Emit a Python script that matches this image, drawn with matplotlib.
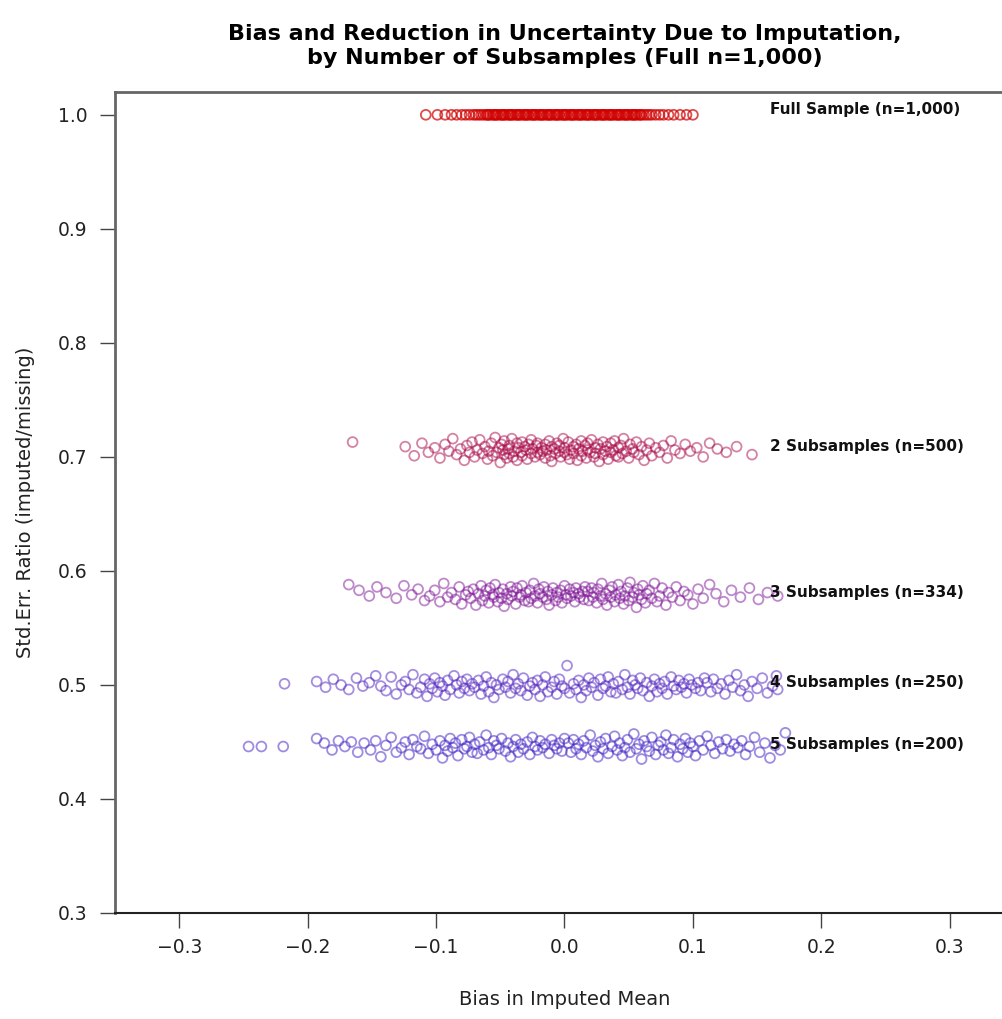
import matplotlib
matplotlib.use("Agg")
import matplotlib.pyplot as plt

# ---------------- data ----------------
labels = ["Full Sample (n=1,000)", "2 Subsamples (n=500)", "3 Subsamples (n=334)",
          "4 Subsamples (n=250)", "5 Subsamples (n=200)"]
label_y = [1.0044, 0.7088, 0.5807, 0.5018, 0.4474]
label_x = 0.160

x_full = [-0.108, -0.099, -0.093, -0.088, -0.084, -0.080, -0.077, -0.074, -0.071, -0.069,
          -0.067, -0.065, -0.063, -0.061,
          -0.060, -0.059, -0.058, -0.056, -0.055, -0.054, -0.053, -0.052, -0.050, -0.049,
          -0.048, -0.047, -0.046, -0.044, -0.043, -0.042, -0.041, -0.040, -0.038, -0.037,
          -0.036, -0.035, -0.034, -0.032, -0.031, -0.030, -0.029, -0.028, -0.026, -0.025,
          -0.024, -0.023, -0.022, -0.020, -0.019, -0.018, -0.017, -0.016, -0.014, -0.013,
          -0.012, -0.011, -0.010, -0.008, -0.007, -0.006, -0.005, -0.004, -0.002, -0.001,
          0.000, 0.001, 0.002, 0.004, 0.005, 0.006, 0.007, 0.008, 0.010, 0.011,
          0.012, 0.013, 0.014, 0.016, 0.017, 0.018, 0.019, 0.020, 0.022, 0.023,
          0.024, 0.025, 0.026, 0.028, 0.029, 0.030, 0.031, 0.032, 0.034, 0.035,
          0.036, 0.037, 0.038, 0.040, 0.041, 0.042, 0.043, 0.044, 0.046, 0.047,
          0.048, 0.049, 0.050, 0.052, 0.053, 0.054, 0.055, 0.056, 0.058, 0.059,
          0.060, 0.062,
          0.064, 0.066, 0.068, 0.071, 0.074, 0.077, 0.081, 0.085, 0.090, 0.095, 0.100]
y_full = [1.0] * len(x_full)   # the full sample has a ratio of exactly 1

x_2 = [-0.165, -0.124, -0.117, -0.111, -0.106, -0.101, -0.097, -0.093, -0.090, -0.087,
       -0.084, -0.081, -0.078, -0.076, -0.074, -0.072, -0.070, -0.068, -0.066, -0.064,
       -0.062, -0.060, -0.059, -0.057, -0.056, -0.054, -0.053, -0.051, -0.050, -0.049,
       -0.048, -0.047, -0.047, -0.045, -0.044, -0.043, -0.043, -0.041, -0.040, -0.039,
       -0.037, -0.037, -0.036, -0.034, -0.033, -0.033, -0.031, -0.030, -0.029, -0.028,
       -0.026, -0.026, -0.025, -0.023, -0.022, -0.021, -0.021, -0.019, -0.018, -0.017,
       -0.015, -0.015, -0.014, -0.012, -0.011, -0.010, -0.010, -0.008, -0.007, -0.006,
       -0.004, -0.004, -0.003, -0.001, 0.000, 0.000, 0.002, 0.003, 0.004, 0.005,
       0.007, 0.007, 0.009, 0.010, 0.011, 0.013, 0.013, 0.014, 0.016, 0.017,
       0.018, 0.018, 0.020, 0.021, 0.023, 0.024, 0.024, 0.026, 0.027, 0.028,
       0.030, 0.030, 0.032, 0.033, 0.034, 0.036, 0.036, 0.038, 0.039, 0.040,
       0.042, 0.042, 0.044, 0.045, 0.046, 0.048,
       0.050, 0.051, 0.053, 0.054, 0.056, 0.058, 0.060, 0.062, 0.064, 0.066,
       0.068, 0.071, 0.074, 0.077, 0.080, 0.083, 0.086, 0.090, 0.094, 0.098,
       0.103, 0.108, 0.113, 0.119, 0.126, 0.134, 0.146]
y_2 = [0.713, 0.709, 0.701, 0.712, 0.704, 0.708, 0.699, 0.711, 0.705, 0.716,
       0.702, 0.707, 0.697, 0.710, 0.704, 0.713, 0.700, 0.706, 0.715, 0.703,
       0.709, 0.698, 0.705, 0.712, 0.701, 0.717, 0.704, 0.708, 0.695, 0.711,
       0.706, 0.702, 0.714, 0.699, 0.707, 0.710, 0.703, 0.716, 0.700, 0.705,
       0.712, 0.697, 0.708, 0.704, 0.713, 0.701, 0.709, 0.706, 0.698, 0.711,
       0.703, 0.715, 0.707, 0.700, 0.710, 0.704, 0.712, 0.702, 0.708, 0.705,
       0.711, 0.699, 0.706, 0.714, 0.701, 0.709, 0.696, 0.707, 0.703, 0.712,
       0.705, 0.710, 0.700, 0.716, 0.704, 0.708, 0.702, 0.713, 0.698, 0.706,
       0.709, 0.703, 0.711, 0.697, 0.707, 0.714, 0.701, 0.705, 0.710, 0.699,
       0.712, 0.706, 0.704, 0.715, 0.700, 0.708, 0.703, 0.711, 0.696, 0.707,
       0.702, 0.713, 0.705, 0.709, 0.698, 0.712, 0.704, 0.706, 0.714, 0.701,
       0.708, 0.700, 0.710, 0.703, 0.716, 0.705, 0.699, 0.711, 0.707, 0.704,
       0.713, 0.702, 0.709, 0.697, 0.706, 0.712, 0.701, 0.708, 0.704, 0.710,
       0.699, 0.714, 0.706, 0.703, 0.711, 0.705, 0.708, 0.700, 0.712, 0.707,
       0.704, 0.709, 0.702]

x_3 = [-0.168, -0.160, -0.152, -0.146, -0.139, -0.131, -0.125, -0.119, -0.114, -0.109,
       -0.105, -0.101, -0.097, -0.094, -0.091, -0.088, -0.085, -0.082, -0.080, -0.077,
       -0.075, -0.073, -0.071, -0.069, -0.067,
       -0.065, -0.064, -0.062, -0.061, -0.059, -0.058, -0.056, -0.055, -0.054, -0.052,
       -0.051, -0.049, -0.048, -0.047, -0.045, -0.044, -0.042, -0.041, -0.040, -0.038,
       -0.037, -0.035, -0.034, -0.033, -0.031, -0.030, -0.028, -0.027, -0.026, -0.024,
       -0.023, -0.021, -0.020, -0.019, -0.017, -0.016, -0.014, -0.013, -0.012, -0.010,
       -0.009, -0.007, -0.006, -0.005, -0.003, -0.002, 0.000, 0.001, 0.002, 0.004,
       0.005, 0.007, 0.008, 0.009, 0.011, 0.012, 0.014, 0.015, 0.016, 0.018,
       0.019, 0.021, 0.022, 0.023, 0.025, 0.026, 0.028, 0.029, 0.030, 0.032,
       0.033, 0.035, 0.036, 0.037, 0.039, 0.040, 0.042, 0.043, 0.044, 0.046,
       0.047, 0.049, 0.050, 0.051, 0.053, 0.054, 0.056, 0.057, 0.058, 0.060,
       0.061, 0.063, 0.064,
       0.066, 0.068, 0.070, 0.072, 0.074, 0.076, 0.079, 0.081, 0.084, 0.087,
       0.090, 0.093, 0.096, 0.100, 0.104, 0.108, 0.113, 0.118, 0.124, 0.130,
       0.137, 0.144, 0.151, 0.158, 0.166]
y_3 = [0.588, 0.583, 0.578, 0.586, 0.581, 0.576, 0.587, 0.579, 0.584, 0.574,
       0.578, 0.583, 0.573, 0.589, 0.577, 0.581, 0.575, 0.586, 0.571, 0.579,
       0.582, 0.576, 0.584, 0.570, 0.580, 0.587, 0.574, 0.578, 0.583, 0.572,
       0.585, 0.579, 0.577, 0.588, 0.573, 0.581, 0.576, 0.584, 0.569, 0.580,
       0.575, 0.586, 0.578, 0.582, 0.571, 0.585, 0.577, 0.579, 0.587, 0.574,
       0.581, 0.573, 0.583, 0.576, 0.589, 0.578, 0.572, 0.584, 0.580, 0.577,
       0.586, 0.575, 0.582, 0.570, 0.579, 0.585, 0.574, 0.581, 0.577, 0.583,
       0.572, 0.587, 0.579, 0.576, 0.584, 0.578, 0.581, 0.573, 0.585, 0.580,
       0.577, 0.582, 0.575,
       0.586, 0.582, 0.574, 0.585, 0.577, 0.581, 0.572, 0.584, 0.578, 0.589,
       0.575, 0.580, 0.570, 0.583, 0.577, 0.586, 0.573, 0.579, 0.588, 0.576,
       0.582, 0.571, 0.578, 0.585, 0.574, 0.590, 0.577, 0.581, 0.568, 0.584,
       0.579, 0.575, 0.587, 0.572, 0.580, 0.583, 0.576, 0.589, 0.573, 0.578,
       0.585, 0.570, 0.581, 0.577, 0.586, 0.574, 0.582, 0.579, 0.571, 0.584,
       0.576, 0.588, 0.580, 0.573, 0.583, 0.577, 0.585, 0.575, 0.581, 0.578]

x_4 = [-0.218, -0.193, -0.186, -0.180, -0.174, -0.168, -0.162, -0.157, -0.152, -0.147,
       -0.143, -0.139, -0.135, -0.131, -0.127, -0.124, -0.121, -0.118, -0.115, -0.112,
       -0.109, -0.107, -0.105, -0.103, -0.101,
       -0.099, -0.097, -0.095, -0.093, -0.091, -0.089, -0.086, -0.084, -0.082, -0.080,
       -0.078, -0.076, -0.074, -0.072, -0.070, -0.067, -0.065, -0.063, -0.061, -0.059,
       -0.057, -0.055, -0.053, -0.051, -0.048, -0.046, -0.044, -0.042, -0.040, -0.038,
       -0.036, -0.034, -0.032, -0.029, -0.027, -0.025, -0.023, -0.021, -0.019, -0.017,
       -0.015, -0.013, -0.010, -0.008, -0.006, -0.004, -0.002, 0.000, 0.002, 0.004,
       0.007, 0.009, 0.011, 0.013, 0.015, 0.017, 0.019, 0.021, 0.023, 0.026,
       0.028, 0.030, 0.032, 0.034, 0.036, 0.038, 0.040, 0.042, 0.045, 0.047,
       0.049, 0.051, 0.053, 0.055, 0.057, 0.059, 0.061, 0.064, 0.066, 0.068,
       0.070, 0.072, 0.074, 0.076, 0.078, 0.080, 0.083, 0.085, 0.087, 0.089,
       0.091, 0.093, 0.095, 0.097, 0.099, 0.102,
       0.104, 0.106, 0.109, 0.111, 0.114, 0.116, 0.119, 0.122, 0.125, 0.128,
       0.131, 0.134, 0.137, 0.140, 0.143, 0.146, 0.150, 0.154, 0.158, 0.162,
       0.165, 0.166]
y_4 = [0.501, 0.503, 0.498, 0.505, 0.500, 0.496, 0.506, 0.499, 0.502, 0.508,
       0.499, 0.495, 0.507, 0.492, 0.500, 0.503, 0.496, 0.509, 0.493, 0.498,
       0.505, 0.490, 0.501, 0.497, 0.506, 0.494, 0.502, 0.499, 0.491, 0.504,
       0.496, 0.508, 0.500, 0.493, 0.503, 0.497, 0.505, 0.495, 0.501, 0.498,
       0.504, 0.492, 0.499, 0.507, 0.494, 0.502, 0.489, 0.500, 0.496, 0.505,
       0.498, 0.503, 0.493, 0.509, 0.497, 0.501, 0.495, 0.506, 0.491, 0.499,
       0.502, 0.496, 0.504, 0.490, 0.500, 0.507, 0.494, 0.498, 0.503, 0.492,
       0.505, 0.499, 0.497, 0.517, 0.493, 0.501, 0.496, 0.504, 0.489, 0.500,
       0.495, 0.506, 0.498, 0.502, 0.491, 0.505, 0.497, 0.499, 0.507, 0.494,
       0.501, 0.493, 0.503, 0.496, 0.509, 0.498, 0.492, 0.504, 0.500, 0.497,
       0.506, 0.495, 0.502, 0.490, 0.499, 0.505, 0.494, 0.501, 0.497, 0.503,
       0.492, 0.507, 0.499, 0.496, 0.504, 0.498, 0.501, 0.493, 0.505, 0.500,
       0.497, 0.502, 0.495,
       0.506, 0.502, 0.494, 0.505, 0.497, 0.501, 0.492, 0.504, 0.498, 0.509,
       0.495, 0.500, 0.490, 0.503, 0.497, 0.506, 0.493, 0.499, 0.508, 0.496]

x_5 = [-0.246, -0.236, -0.219, -0.193, -0.187, -0.181, -0.176, -0.171, -0.166, -0.161,
       -0.156, -0.151, -0.147, -0.143, -0.139, -0.135, -0.131, -0.127, -0.124, -0.121,
       -0.118, -0.115, -0.112, -0.109, -0.106, -0.103, -0.100, -0.097,
       -0.095, -0.093, -0.091, -0.089, -0.087, -0.085, -0.083, -0.080, -0.078, -0.076,
       -0.074, -0.072, -0.070, -0.068, -0.066, -0.063, -0.061, -0.059, -0.057, -0.055,
       -0.053, -0.051, -0.049, -0.046, -0.044, -0.042, -0.040, -0.038, -0.036, -0.034,
       -0.032, -0.029, -0.027, -0.025, -0.023, -0.021, -0.019, -0.017, -0.015, -0.012,
       -0.010, -0.008, -0.006, -0.004, -0.002, 0.000, 0.003, 0.005, 0.007, 0.009,
       0.011, 0.013, 0.015, 0.017, 0.020, 0.022, 0.024, 0.026, 0.028, 0.030,
       0.032, 0.034, 0.037, 0.039, 0.041, 0.043, 0.045, 0.047, 0.049, 0.051,
       0.054, 0.056, 0.058, 0.060, 0.062, 0.064, 0.066, 0.068, 0.071, 0.073,
       0.075, 0.077, 0.079, 0.081, 0.083, 0.085, 0.088, 0.090, 0.092, 0.094,
       0.096, 0.098, 0.100, 0.102, 0.105, 0.108,
       0.111, 0.114, 0.117, 0.120, 0.123, 0.126, 0.129, 0.132, 0.135, 0.138,
       0.141, 0.144, 0.148, 0.152, 0.156, 0.160, 0.164, 0.168, 0.172]
y_5 = [0.446, 0.446, 0.446, 0.453, 0.449, 0.443, 0.451, 0.446, 0.450, 0.441,
       0.449, 0.443, 0.451, 0.437, 0.447, 0.454, 0.441, 0.445, 0.450, 0.439,
       0.452, 0.446, 0.444, 0.455, 0.440, 0.448, 0.443, 0.451, 0.436, 0.447,
       0.442, 0.453, 0.445, 0.449, 0.438, 0.452, 0.444, 0.446, 0.454, 0.441,
       0.448, 0.440, 0.450, 0.443, 0.456, 0.445, 0.439, 0.451, 0.447, 0.444,
       0.453, 0.442, 0.449, 0.437, 0.446, 0.452, 0.441, 0.448, 0.444, 0.450,
       0.439, 0.454, 0.446, 0.443, 0.451, 0.445, 0.448, 0.440, 0.452, 0.447,
       0.444, 0.449, 0.442,
       0.453, 0.449, 0.441, 0.452, 0.444, 0.448, 0.439, 0.451, 0.445, 0.456,
       0.442, 0.447, 0.437, 0.450, 0.444, 0.453, 0.440, 0.446, 0.455, 0.443,
       0.449, 0.438, 0.445, 0.452, 0.441, 0.457, 0.444, 0.448, 0.435, 0.451,
       0.446, 0.442, 0.454, 0.439, 0.447, 0.450, 0.443, 0.456, 0.440, 0.445,
       0.452, 0.437, 0.448, 0.444, 0.453, 0.441, 0.449, 0.446, 0.438, 0.451,
       0.443, 0.455, 0.447, 0.440, 0.450, 0.444, 0.452, 0.442, 0.448, 0.445,
       0.451, 0.439, 0.446, 0.454, 0.441, 0.449, 0.436, 0.447, 0.443, 0.458]

series_x = [x_full, x_2, x_3, x_4, x_5]
series_y = [y_full, y_2, y_3, y_4, y_5]
colors = ["#D00000", "#A80848", "#7E1496", "#5426C0", "#4424C4"]
alphas = [0.70, 0.50, 0.50, 0.52, 0.52]

xticks = [-0.3, -0.2, -0.1, 0.0, 0.1, 0.2, 0.3]
yticks = [0.3, 0.4, 0.5, 0.6, 0.7, 0.8, 0.9, 1.0]

# ---------------- figure ----------------
plt.rcParams['font.family'] = ['DejaVu Sans']
fig = plt.figure(figsize=(10.03, 10.19), dpi=100)
ax = fig.add_axes([115/1003, 1 - 913/1019, (1014 - 115)/1003, (913 - 92)/1019])

for xs, ys, c, a in zip(series_x, series_y, colors, alphas):
    n = min(len(xs), len(ys))
    ax.scatter(xs[:n], ys[:n], s=50, facecolors='none', edgecolors=c, alpha=a, linewidths=1.3)

for lab, ly in zip(labels, label_y):
    ax.text(label_x, ly, lab, fontsize=11, fontweight='bold', ha='left', va='center', color='#111111')

ax.set_xlim(-0.35, 0.35)
ax.set_ylim(0.3, 1.02)
ax.set_xticks(xticks)
ax.set_yticks(yticks)
ax.set_xticklabels([f"{t:.1f}".replace("-", "\u2212") for t in xticks], fontsize=13.5)
ax.set_yticklabels([f"{t:.1f}" for t in yticks], fontsize=13.5)
ax.tick_params(axis='both', length=11, width=1.0, color='#444444', labelcolor='#222222')
ax.tick_params(axis='x', pad=7)
ax.tick_params(axis='y', pad=9)

for side in ['left', 'top', 'right']:
    ax.spines[side].set_color('#666666')
    ax.spines[side].set_linewidth(2.0)
ax.spines['bottom'].set_color('#222222')
ax.spines['bottom'].set_linewidth(1.5)

ax.set_xlabel("Bias in Imputed Mean", fontsize=14, labelpad=24, color='#222222')
ax.set_ylabel("Std.Err. Ratio (imputed/missing)", fontsize=14, labelpad=16, color='#222222')

ax.set_title("Bias and Reduction in Uncertainty Due to Imputation,\nby Number of Subsamples (Full n=1,000)",
             fontsize=16, fontweight='bold', pad=20, linespacing=1.25)

fig.savefig("out.png", dpi=100)
